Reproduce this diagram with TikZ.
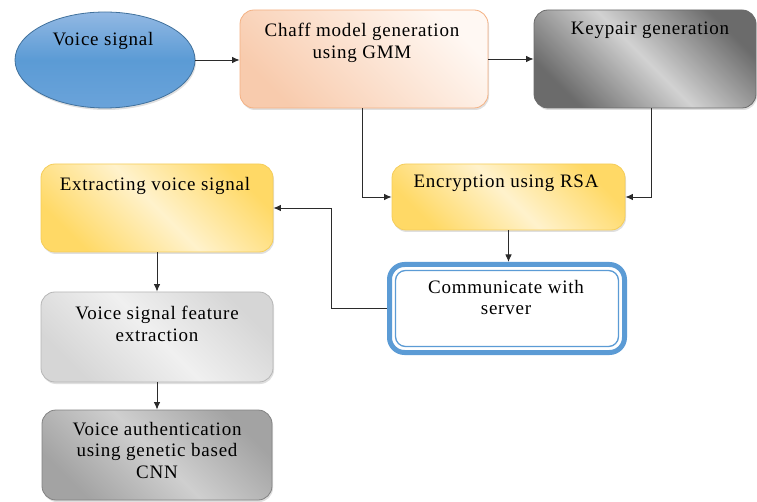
\documentclass[tikz,border=0pt]{standalone}
\usepackage{fontspec}
\setmainfont{Liberation Serif}[LetterSpace=4]
\usetikzlibrary{arrows.meta,shadows,shapes.geometric}
\definecolor{ellblue}{HTML}{41719C}
\definecolor{elltop}{HTML}{92B8E3}
\definecolor{ellmid}{HTML}{5B9BD5}
\definecolor{ellbot}{HTML}{6AA3DA}
\definecolor{peach}{HTML}{F8CBAD}
\definecolor{peachline}{HTML}{F4B183}
\definecolor{peachlight}{HTML}{FFF8F3}
\definecolor{gold}{HTML}{FFD966}
\definecolor{goldlight}{HTML}{FFF2CC}
\definecolor{goldline}{HTML}{F5CD5A}
\definecolor{keydark}{HTML}{6B6B6B}
\definecolor{keylight}{HTML}{D2D2D2}
\definecolor{featdark}{HTML}{D6D6D6}
\definecolor{featlight}{HTML}{F0F0F0}
\definecolor{cnndark}{HTML}{A3A3A3}
\definecolor{cnnlight}{HTML}{CFCFCF}
\definecolor{commblue}{HTML}{5B9BD5}
\definecolor{conncol}{HTML}{2B2B2B}
\begin{document}
\begin{tikzpicture}[x=1pt,y=-1pt,
  box/.style={rounded corners=14pt, line width=0.8pt, inner sep=0pt,
    drop shadow={shadow xshift=1pt, shadow yshift=-2pt, opacity=0.25}},
  lbl/.style={anchor=north, align=center, inner sep=0pt,
    font=\fontsize{19}{21.5}\selectfont, text=black},
  conn/.style={draw=conncol, line width=0.9pt, -{Latex[length=7.5pt,width=6.5pt]}},
  chaffsh/.style={draw=peachline, top color=peachlight, bottom color=peach, shading angle=-45},
  keysh/.style={draw=keydark, top color=keydark, bottom color=keydark, middle color=keylight, shading angle=-45},
  goldsh/.style={draw=goldline, top color=gold, bottom color=gold, middle color=goldlight, shading angle=-45},
  featsh/.style={draw=featdark!85!black, top color=featdark, bottom color=featdark, middle color=featlight, shading angle=-45},
  cnnsh/.style={draw=cnndark!80!black, top color=cnndark, bottom color=cnndark, middle color=cnnlight, shading angle=-45}
]
\useasboundingbox (0,0) rectangle (757,502);

% ellipse
\node[ellipse, draw=ellblue, line width=0.8pt, top color=elltop, bottom color=ellbot, middle color=ellmid,
  minimum width=180pt, minimum height=96pt, inner sep=0pt,
  drop shadow={shadow xshift=1pt, shadow yshift=-2pt, opacity=0.25}] (ell) at (105,60) {};
\node[lbl] (tell) at (103,32) {Voice signal};

% top row boxes
\node[box, chaffsh, minimum width=248pt, minimum height=98pt] (chaff) at (364,59) {};
\node[lbl] (tchaff) at (362,23) {Chaff model generation\\using GMM};

\node[box, keysh, minimum width=222pt, minimum height=98pt] (key) at (645,59) {};
\node[lbl] (tkey) at (650,22) {Keypair generation};

% encryption
\node[box, goldsh, minimum width=233pt, minimum height=66pt] (enc) at (508.5,197) {};
\node[lbl] (tenc) at (506,175) {Encryption using RSA};

% communicate
\node[draw=commblue, line width=5pt, rounded corners=15pt, fill=white,
  minimum width=235pt, minimum height=88pt, inner sep=0pt] (comm) at (507,308.5) {};
\node[draw=commblue, line width=1.3pt, rounded corners=10pt,
  minimum width=223pt, minimum height=76pt, inner sep=0pt] (commin) at (507,308.5) {};
\node[lbl] (tcomm) at (506,280) {Communicate with\\server};

% left column
\node[box, goldsh, minimum width=232pt, minimum height=88pt] (ext) at (157,208) {};
\node[lbl] (text) at (155,177) {Extracting voice signal};

\node[box, featsh, minimum width=232pt, minimum height=90pt] (feat) at (157,337) {};
\node[lbl] (tfeat) at (157,306) {Voice signal feature\\extraction};

\node[box, cnnsh, minimum width=230pt, minimum height=90pt] (cnn) at (157,455) {};
\node[lbl] (tcnn) at (157,422) {Voice authentication\\using genetic based\\CNN};

% connectors
\draw[conn] (ell.east) -- (ell.east -| chaff.west);
\draw[conn] (chaff.east) -- (key.west);
\draw[conn] ([xshift=-2pt]chaff.south) |- (enc.west);
\draw[conn] ([xshift=6pt]key.south) |- (enc.east);
\draw[conn] (enc.south) -- (enc.south |- comm.north);
\coordinate (bend) at (331,308.5);
\draw[conn] (comm.west) -- (bend) |- (ext.east);
\draw[conn] (ext.south) -- (feat.north);
\draw[conn] (feat.south) -- (cnn.north);
\end{tikzpicture}
\end{document}
